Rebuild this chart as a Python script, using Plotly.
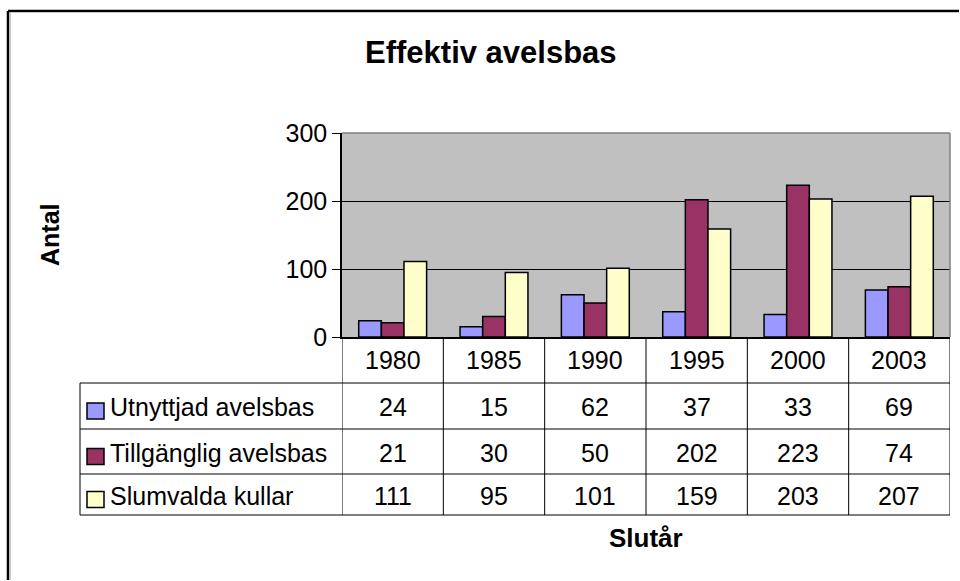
import plotly.graph_objects as go

# ---- data ----
years = ["1980", "1985", "1990", "1995", "2000", "2003"]
series_names = ["Utnyttjad avelsbas", "Tillgänglig avelsbas", "Slumvalda kullar"]
utnyttjad = [24, 15, 62, 37, 33, 69]
tillganglig = [21, 30, 50, 202, 223, 74]
slumvalda = [111, 95, 101, 159, 203, 207]
series_values = [utnyttjad, tillganglig, slumvalda]
colors = ["#9999FF", "#993366", "#FFFFCC"]
y_ticks = [0, 100, 200, 300]

title_text = "Effektiv avelsbas"
y_title = "Antal"
x_title = "Slutår"

# ---- layout geometry (pixels) ----
WIDTH, HEIGHT = 960, 581
L, R, T, B = 342, 950, 133, 337
PW, PH = R - L, B - T


def px(x):
    return (x - L) / PW


def py(y):
    return (B - y) / PH


FONT = "Arial, 'Liberation Sans', sans-serif"
FS = 25

fig = go.Figure()
cats = list(range(len(years)))
for name, vals, col in zip(series_names, series_values, colors):
    fig.add_trace(go.Bar(
        x=cats, y=vals, name=name,
        marker=dict(color=col, line=dict(color="black", width=1.5)),
        showlegend=False, hoverinfo="skip",
    ))

shapes = []
annotations = []

# outer frame (only top and left edges are inside the picture)
shapes.append(dict(type="line", xref="paper", yref="paper",
                   x0=px(8), x1=px(959), y0=py(11), y1=py(11),
                   line=dict(color="black", width=2.5)))
shapes.append(dict(type="line", xref="paper", yref="paper",
                   x0=px(8), x1=px(8), y0=py(11), y1=py(580),
                   line=dict(color="black", width=2.5)))
shapes.append(dict(type="line", xref="paper", yref="paper",
                   x0=px(10.5), x1=px(10.5), y0=py(12.5), y1=py(580),
                   line=dict(color="#C8C8C8", width=1)))
shapes.append(dict(type="line", xref="paper", yref="paper",
                   x0=px(10.5), x1=px(959), y0=py(12.5), y1=py(12.5),
                   line=dict(color="#C8C8C8", width=1)))
# plot area border (gray) top and right
shapes.append(dict(type="line", xref="paper", yref="paper",
                   x0=0, x1=1, y0=1, y1=1,
                   line=dict(color="#808080", width=1.5)))
shapes.append(dict(type="line", xref="paper", yref="paper",
                   x0=1, x1=1, y0=0, y1=1,
                   line=dict(color="#808080", width=1.5)))

# table rows
row_lines = [383, 429, 474, 515]
header_top = B
row_centers = [(row_lines[i] + row_lines[i + 1]) / 2 for i in range(3)]
header_center = (header_top + row_lines[0]) / 2
table_left = 80

for yl in row_lines:
    shapes.append(dict(type="line", xref="paper", yref="paper",
                       x0=px(table_left), x1=1, y0=py(yl), y1=py(yl),
                       line=dict(color="black", width=1)))
shapes.append(dict(type="line", xref="paper", yref="paper",
                   x0=px(table_left), x1=px(table_left),
                   y0=py(row_lines[0]), y1=py(row_lines[-1]),
                   line=dict(color="black", width=1)))
for i in range(len(years) + 1):
    shapes.append(dict(type="line", xref="x", yref="paper",
                       x0=i - 0.5, x1=i - 0.5,
                       y0=py(header_top), y1=py(row_lines[-1]),
                       line=dict(color="black", width=1)))

# header year labels
for i, yr in enumerate(years):
    annotations.append(dict(xref="x", yref="paper", x=i, y=py(header_center),
                            text=yr, showarrow=False, xanchor="center",
                            yanchor="middle", font=dict(size=FS, color="black", family=FONT)))

# rows: legend swatch + name + values
for r, (name, vals, col) in enumerate(zip(series_names, series_values, colors)):
    yc = row_centers[r]
    shapes.append(dict(type="rect", xref="paper", yref="paper",
                       x0=px(87), x1=px(104), y0=py(yc - 3), y1=py(yc + 13),
                       fillcolor=col, line=dict(color="black", width=1.5)))
    annotations.append(dict(xref="paper", yref="paper", x=px(108), y=py(yc + 1),
                            text=name, showarrow=False, xanchor="left",
                            yanchor="middle", font=dict(size=FS, color="black", family=FONT)))
    for i, v in enumerate(vals):
        annotations.append(dict(xref="x", yref="paper", x=i, y=py(yc + 1),
                                text=str(v), showarrow=False, xanchor="center",
                                yanchor="middle", font=dict(size=FS, color="black", family=FONT)))

# titles
annotations.append(dict(xref="paper", yref="paper", x=px(491), y=py(52),
                        text="<b>" + title_text + "</b>", showarrow=False,
                        xanchor="center", yanchor="middle",
                        font=dict(size=31, color="black", family=FONT)))
annotations.append(dict(xref="paper", yref="paper", x=px(50), y=py(235),
                        text="<b>" + y_title + "</b>", showarrow=False, textangle=-90,
                        xanchor="center", yanchor="middle",
                        font=dict(size=25, color="black", family=FONT)))
annotations.append(dict(xref="paper", yref="paper", x=0.5, y=py(538),
                        text="<b>" + x_title + "</b>", showarrow=False,
                        xanchor="center", yanchor="middle",
                        font=dict(size=26, color="black", family=FONT)))

fig.update_layout(
    width=WIDTH, height=HEIGHT, autosize=False,
    margin=dict(l=L, r=WIDTH - R, t=T, b=HEIGHT - B, pad=0),
    paper_bgcolor="white", plot_bgcolor="#C0C0C0",
    barmode="group", bargap=0.33, bargroupgap=0,
    shapes=shapes, annotations=annotations,
    font=dict(family=FONT, color="black", size=FS),
    xaxis=dict(range=[-0.5, len(years) - 0.5], showticklabels=False, ticks="",
               showgrid=False, showline=True, linecolor="black", linewidth=1.5,
               zeroline=False, fixedrange=True),
    yaxis=dict(range=[0, 300], tickvals=y_ticks, ticks="outside", ticklen=8,
               tickcolor="black", tickwidth=1, showline=True, linecolor="black",
               linewidth=1.5, showgrid=True, gridcolor="black", gridwidth=1,
               zeroline=False, tickfont=dict(size=FS, color="black", family=FONT),
               fixedrange=True),
)

fig.write_html(
    "out.html",
    config={"displayModeBar": False},
    post_script="document.body.style.margin='0';document.body.style.overflow='hidden';",
)
